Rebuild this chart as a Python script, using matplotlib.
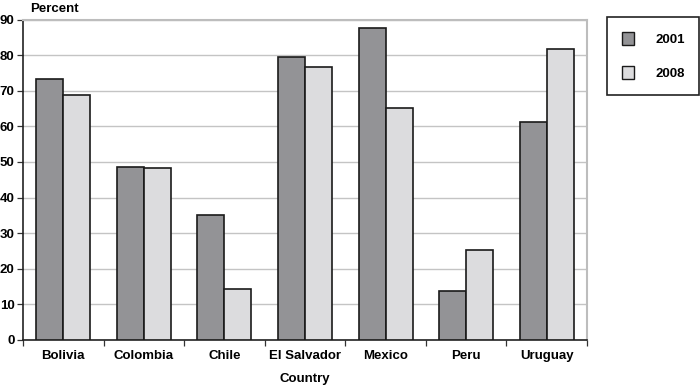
import numpy as np
import matplotlib.pyplot as plt
from matplotlib.patches import Patch

countries = ["Bolivia", "Colombia", "Chile", "El Salvador", "Mexico", "Peru", "Uruguay"]
vals_2001 = [73.2, 48.7, 35.2, 79.4, 87.7, 13.9, 61.2]
vals_2008 = [68.7, 48.4, 14.4, 76.6, 65.2, 25.3, 81.7]
years = ["2001", "2008"]

plt.rcParams['font.family'] = ['Liberation Sans', 'DejaVu Sans']
plt.rcParams['font.weight'] = 'bold'

dark = '#939396'
light = '#dcdcde'
edge = '#1a1a1a'

fig = plt.figure(figsize=(7, 3.88), dpi=100)
ax = fig.add_axes([23/700, 48/388, 564/700, 320.5/388])

x = np.arange(len(countries))
w = 0.335
ax.bar(x - w/2, vals_2001, w, color=dark, edgecolor=edge, linewidth=1.2, zorder=3)
ax.bar(x + w/2, vals_2008, w, color=light, edgecolor=edge, linewidth=1.2, zorder=3)

ax.set_xlim(-0.5, len(countries) - 0.5)
ax.set_ylim(0, 90)
ax.set_yticks(range(0, 91, 10))
ax.yaxis.grid(True, color='#c4c4c4', linewidth=1.0, zorder=0)

ax.set_xticks(x)
ax.set_xticklabels(countries, fontsize=9.5, fontweight='bold')
ax.tick_params(axis='x', length=0, pad=7)
ax.set_xticks(np.arange(-0.5, len(countries), 1), minor=True)
ax.tick_params(axis='x', which='minor', length=4, width=0.9, color='#333333')
ax.tick_params(axis='y', length=4, width=0.9, color='#333333', labelsize=9.5, pad=2)
for lab in ax.get_yticklabels():
    lab.set_fontweight('bold')

for s in ['top', 'right']:
    ax.spines[s].set_color('#bdbdbd')
    ax.spines[s].set_linewidth(1.5)
for s in ['left', 'bottom']:
    ax.spines[s].set_color('#222222')
    ax.spines[s].set_linewidth(1.2)

ax.set_xlabel("Country", fontsize=9.5, fontweight='bold', labelpad=8)
fig.text(30/700, 1 - 9/388, "Percent", fontsize=9.5, fontweight='bold', va='center', ha='left')

handles = [Patch(facecolor=dark, edgecolor=edge, linewidth=1.0),
           Patch(facecolor=light, edgecolor=edge, linewidth=1.0)]
leg = fig.legend(handles, years, loc='upper left', bbox_to_anchor=(607/700, 1 - 17/388),
                 frameon=True, fancybox=False, edgecolor='#222222', framealpha=1,
                 handlelength=0.95, handleheight=1.15, labelspacing=1.55, handletextpad=1.6,
                 borderpad=1.1, borderaxespad=0, prop={'size': 9.5, 'weight': 'bold'})
leg.get_frame().set_linewidth(1.2)

fig.savefig("out.png", dpi=100)
